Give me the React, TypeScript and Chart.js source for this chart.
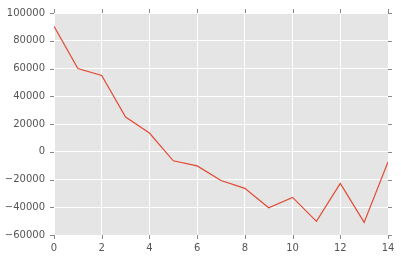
import React, { useEffect, useRef } from "react";
import { Chart, registerables } from "chart.js";

Chart.register(...registerables);

const xValues = [0, 1, 2, 3, 4, 5, 6, 7, 8, 9, 10, 11, 12, 13, 14];
const yValues = [90500, 60000, 55000, 25000, 13500, -6500, -10200, -20700, -26400, -40400, -32900, -50200, -22800, -50900, -7300];
const xTicks = [0, 2, 4, 6, 8, 10, 12, 14];
const yTicks = [-60000, -40000, -20000, 0, 20000, 40000, 60000, 80000, 100000];

const bgPlugin = {
  id: "bgPlugin",
  beforeDraw(chart: any) {
    const { ctx, chartArea } = chart;
    ctx.save();
    ctx.fillStyle = "#E5E5E5";
    ctx.fillRect(chartArea.left, chartArea.top, chartArea.right - chartArea.left, chartArea.bottom - chartArea.top);
    ctx.restore();
  },
  afterDraw(chart: any) {
    const { ctx, chartArea } = chart;
    const xs = chart.scales.x;
    const ys = chart.scales.y;
    ctx.save();
    ctx.strokeStyle = "#888888";
    ctx.lineWidth = 1;
    ctx.beginPath();
    xTicks.forEach((v) => {
      const px = Math.round(xs.getPixelForValue(v)) + 0.5;
      ctx.moveTo(px, chartArea.bottom);
      ctx.lineTo(px, chartArea.bottom + 4);
      ctx.moveTo(px, chartArea.top);
      ctx.lineTo(px, chartArea.top - 4);
    });
    yTicks.forEach((v) => {
      const py = Math.round(ys.getPixelForValue(v)) + 0.5;
      ctx.moveTo(chartArea.left, py);
      ctx.lineTo(chartArea.left - 4, py);
      ctx.moveTo(chartArea.right, py);
      ctx.lineTo(chartArea.right + 4, py);
    });
    ctx.stroke();
    ctx.restore();
  },
};

export default function App() {
  const ref = useRef<HTMLCanvasElement>(null);
  useEffect(() => {
    if (!ref.current) return;
    const chart = new Chart(ref.current, {
      type: "line",
      data: {
        datasets: [
          {
            data: xValues.map((x, i) => ({ x, y: yValues[i] })),
            borderColor: "#E24A33",
            borderWidth: 1.2,
            pointRadius: 0,
            tension: 0,
            fill: false,
          },
        ],
      },
      options: {
        animation: false,
        responsive: false,
        layout: { padding: { top: 13, right: 13, left: 0, bottom: 0 } },
        plugins: { legend: { display: false }, tooltip: { enabled: false } },
        scales: {
          x: {
            type: "linear",
            min: 0,
            max: 14,
            afterFit: (s: any) => {
              s.height = 25;
              s.paddingLeft = 0;
              s.paddingRight = 0;
            },
            afterBuildTicks: (s: any) => {
              s.ticks = xTicks.map((v) => ({ value: v }));
            },
            border: { display: false },
            grid: { color: "#FFFFFF", lineWidth: 1, drawTicks: false },
            ticks: {
              color: "#555555",
              font: { family: "DejaVu Sans", size: 10 },
              padding: 7,
              maxRotation: 0,
              callback: (v: any) => String(v),
            },
          },
          y: {
            min: -60000,
            max: 100000,
            afterFit: (s: any) => {
              s.width = 54;
              s.paddingTop = 0;
              s.paddingBottom = 0;
            },
            afterBuildTicks: (s: any) => {
              s.ticks = yTicks.map((v) => ({ value: v }));
            },
            border: { display: false },
            grid: { color: "#FFFFFF", lineWidth: 1, drawTicks: false },
            ticks: {
              color: "#555555",
              font: { family: "DejaVu Sans", size: 10 },
              padding: 9,
              callback: (v: any) => String(v).replace("-", "\u2212"),
            },
          },
        },
      },
      plugins: [bgPlugin],
    });
    return () => chart.destroy();
  }, []);
  return (
    <div style={{ position: "absolute", left: 0, top: 0, width: 401, height: 260, background: "#fff" }}>
      <canvas ref={ref} width={401} height={260} style={{ width: 401, height: 260 }} />
    </div>
  );
}
